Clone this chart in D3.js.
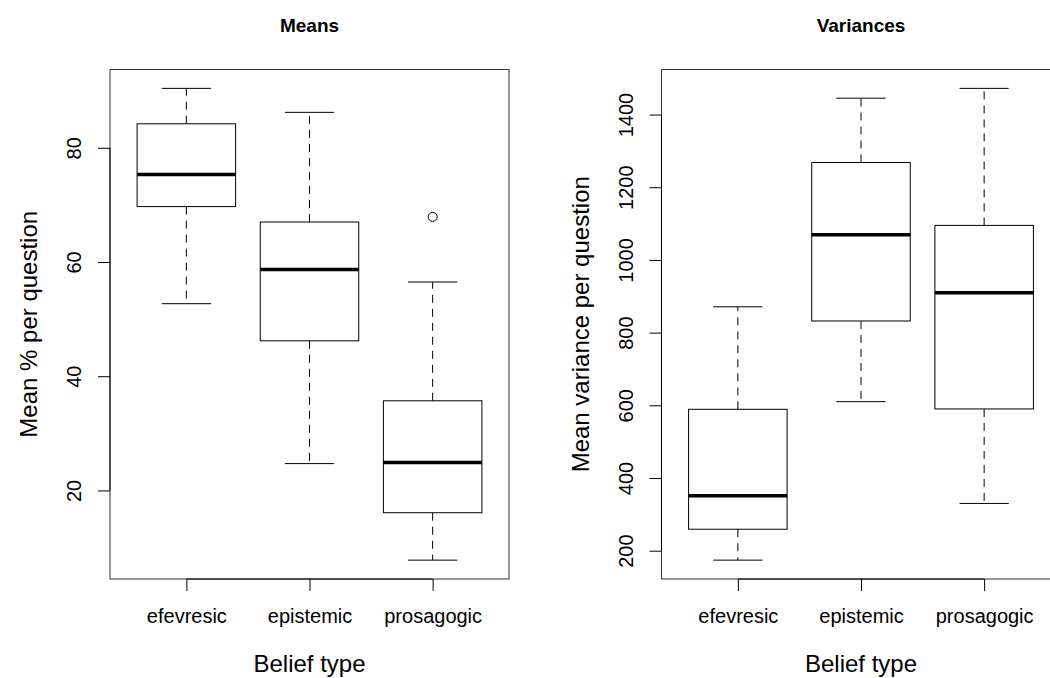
<!doctype html>
<html lang="en">
<head>
  <meta charset="utf-8">
  <script src="https://d3js.org/d3.v7.min.js"></script>
  <title>Means and Variances by Belief type</title>
  <style>
    body { margin: 0; background: white; }
    text { font-family: "Liberation Sans", Arial, sans-serif; fill: black; }
  </style>
</head>
<body>
  <svg id="plot" width="1050" height="678"></svg>
  <script>
    // belief types on the x axis
    var categories = ["efevresic", "epistemic", "prosagogic"];

    // Means panel: [lower whisker, Q1, median, Q3, upper whisker]
    var meansStats = [
      [52.7, 69.7, 75.3, 84.2, 90.4],
      [24.7, 46.2, 58.7, 67.0, 86.2],
      [7.8, 16.1, 24.9, 35.7, 56.5]
    ];
    var meansOutliers = [[], [], [67.9]];
    var meansTicks = [20, 40, 60, 80];

    // Variances panel
    var varStats = [
      [174, 259, 351, 589, 871],
      [610, 832, 1069, 1268, 1445],
      [330, 590, 910, 1095, 1472]
    ];
    var varOutliers = [[], [], []];
    var varTicks = [200, 400, 600, 800, 1000, 1200, 1400];

    var svg = d3.select("#plot");

    function boxPanel(left, title, ylab, stats, outliers, ticks) {
      var top = 69.5, bottom = 579, width = 399;
      var g = svg.append("g");

      // R style: 4% padding on each side of the data range
      var lo = d3.min(stats, function(d) { return d[0]; });
      var hi = d3.max(stats.map(function(d, i) { return d3.max([d[4]].concat(outliers[i])); }));
      var pad = (hi - lo) * 0.04;

      var x = d3.scaleLinear().domain([0.38, 3.62]).range([left, left + width]);
      var y = d3.scaleLinear().domain([lo - pad, hi + pad]).range([bottom, top]);

      // frame
      g.append("rect")
        .attr("x", left).attr("y", top)
        .attr("width", width).attr("height", bottom - top)
        .style("fill", "none").style("stroke", "#333").style("stroke-width", 1);

      // y axis
      var yAxis = g.append("g")
        .attr("transform", "translate(" + left + ",0)")
        .call(d3.axisLeft(y).tickValues(ticks).tickSize(12).tickSizeOuter(0).tickFormat(d3.format("d")));
      yAxis.select(".domain").remove();
      yAxis.append("line")
        .attr("y1", y(ticks[0])).attr("y2", y(ticks[ticks.length - 1]))
        .style("stroke", "black");
      yAxis.selectAll(".tick text")
        .attr("x", 0).attr("dy", 0)
        .attr("transform", "translate(-29,0) rotate(-90)")
        .style("text-anchor", "middle")
        .style("font-size", "20px")
        .style("font-family", "Liberation Sans, Arial, sans-serif");

      // x axis
      var xAxis = g.append("g")
        .attr("transform", "translate(0," + bottom + ")")
        .call(d3.axisBottom(x).tickValues([1, 2, 3]).tickSize(12).tickSizeOuter(0)
          .tickFormat(function(d) { return categories[d - 1]; }));
      xAxis.select(".domain").remove();
      xAxis.append("line")
        .attr("x1", x(1)).attr("x2", x(3))
        .style("stroke", "black");
      xAxis.selectAll(".tick text")
        .attr("y", 44).attr("dy", 0)
        .style("font-size", "20px")
        .style("font-family", "Liberation Sans, Arial, sans-serif");

      // boxes
      stats.forEach(function(s, i) {
        var cx = x(i + 1);
        var bw = x(1.4) - x(1);
        var cw = x(1.2) - x(1);

        g.append("line")
          .attr("x1", cx).attr("x2", cx).attr("y1", y(s[3])).attr("y2", y(s[4]))
          .style("stroke", "black").style("stroke-dasharray", "8,6");
        g.append("line")
          .attr("x1", cx).attr("x2", cx).attr("y1", y(s[1])).attr("y2", y(s[0]))
          .style("stroke", "black").style("stroke-dasharray", "8,6");
        g.append("line")
          .attr("x1", cx - cw).attr("x2", cx + cw).attr("y1", y(s[4])).attr("y2", y(s[4]))
          .style("stroke", "black");
        g.append("line")
          .attr("x1", cx - cw).attr("x2", cx + cw).attr("y1", y(s[0])).attr("y2", y(s[0]))
          .style("stroke", "black");
        g.append("rect")
          .attr("x", cx - bw).attr("y", y(s[3]))
          .attr("width", bw * 2).attr("height", y(s[1]) - y(s[3]))
          .style("fill", "white").style("stroke", "black").style("stroke-width", 1);
        g.append("line")
          .attr("x1", cx - bw).attr("x2", cx + bw).attr("y1", y(s[2])).attr("y2", y(s[2]))
          .style("stroke", "black").style("stroke-width", 3.5);

        outliers[i].forEach(function(o) {
          g.append("circle")
            .attr("cx", cx).attr("cy", y(o)).attr("r", 4.5)
            .style("fill", "none").style("stroke", "black");
        });
      });

      // titles
      g.append("text")
        .attr("x", left + width / 2).attr("y", 32)
        .style("text-anchor", "middle")
        .style("font-size", "19px")
        .style("font-weight", "bold")
        .text(title);

      g.append("text")
        .attr("x", left + width / 2).attr("y", 672)
        .style("text-anchor", "middle")
        .style("font-size", "24px")
        .text("Belief type");

      g.append("text")
        .attr("transform", "translate(" + (left - 73) + "," + ((top + bottom) / 2) + ") rotate(-90)")
        .style("text-anchor", "middle")
        .style("font-size", "24px")
        .text(ylab);
    }

    boxPanel(110, "Means", "Mean % per question", meansStats, meansOutliers, meansTicks);
    boxPanel(661.5, "Variances", "Mean variance per question", varStats, varOutliers, varTicks);
  </script>
</body>
</html>
